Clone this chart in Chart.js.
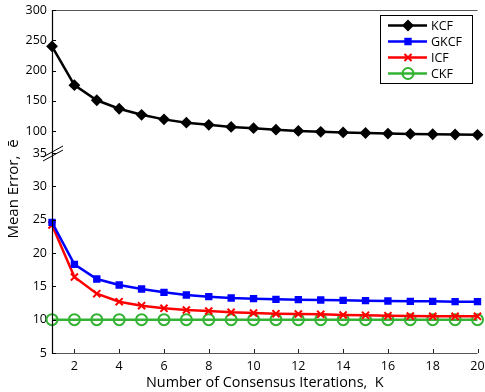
<!DOCTYPE html>
<html><head><meta charset="utf-8">
<script src="https://cdn.jsdelivr.net/npm/chart.js@4/dist/chart.umd.min.js"></script>
<style>html,body{margin:0;padding:0;background:#fff}#wrap{width:485px;height:392px}</style>
</head><body><div id="wrap"><canvas id="c" width="485" height="392"></canvas></div>
<script>
const iterations = [1,2,3,4,5,6,7,8,9,10,11,12,13,14,15,16,17,18,19,20];
const kcf  = [240,176,151,137,127,119.5,114,110.5,107,105,102.5,100.5,99,98,97,96,95.5,95,94.5,94];
const gkcf = [24.6,18.3,16.1,15.2,14.6,14.1,13.7,13.45,13.25,13.15,13.05,13.0,12.95,12.9,12.85,12.8,12.75,12.75,12.7,12.7];
const icf  = [24.2,16.4,13.9,12.7,12.1,11.7,11.45,11.3,11.1,11.0,10.9,10.85,10.8,10.7,10.65,10.6,10.55,10.5,10.5,10.5];
const ckf  = [10,10,10,10,10,10,10,10,10,10,10,10,10,10,10,10,10,10,10,10];
const xTicks = [2,4,6,8,10,12,14,16,18,20];
const yTopTicks = [100,150,200,250,300];
const yBotTicks = [5,10,15,20,25,30,35];
const seriesNames = ['KCF','GKCF','ICF','CKF'];
const xTitle = 'Number of Consensus Iterations,  K';
const yTitle = 'Mean Error,  ē';

const FONT = '"Open Sans", sans-serif';
const pts = arr => arr.map((v,i)=>({x:iterations[i], y:v}));

const inwardTicks = {
  id:'inwardTicks',
  afterDraw(chart){
    const ctx = chart.ctx, a = chart.chartArea;
    const sx = chart.scales.x, st = chart.scales.yTop, sb = chart.scales.yBot;
    ctx.save();
    ctx.strokeStyle = '#555'; ctx.lineWidth = 1;
    ctx.beginPath(); ctx.moveTo(a.left, a.top+0.5); ctx.lineTo(a.right, a.top+0.5); ctx.stroke();
    ctx.beginPath(); ctx.moveTo(a.left, a.bottom+0.5); ctx.lineTo(a.right, a.bottom+0.5); ctx.stroke();
    ctx.strokeStyle = '#222';
    xTicks.forEach(v=>{const p=Math.round(sx.getPixelForValue(v))+0.5; ctx.beginPath(); ctx.moveTo(p,a.bottom); ctx.lineTo(p,a.bottom-4); ctx.stroke();});
    ctx.strokeStyle = '#000'; ctx.lineWidth = 1.2;
    ctx.beginPath(); ctx.moveTo(a.left+0.5, a.top); ctx.lineTo(a.left+0.5, a.bottom+1); ctx.stroke();
    ctx.lineWidth = 1;
    yTopTicks.forEach(v=>{const p=Math.round(st.getPixelForValue(v))+0.5; ctx.beginPath(); ctx.moveTo(a.left,p); ctx.lineTo(a.left+4,p); ctx.stroke();});
    yBotTicks.forEach(v=>{const p=Math.round(sb.getPixelForValue(v))+0.5; ctx.beginPath(); ctx.moveTo(a.left,p); ctx.lineTo(a.left+4,p); ctx.stroke();});
    const by = sb.top;
    ctx.strokeStyle = '#000'; ctx.lineWidth = 1;
    [0,4].forEach(d=>{ctx.beginPath(); ctx.moveTo(a.left-9, by+4+d); ctx.lineTo(a.left+11, by-7+d); ctx.stroke();});
    ctx.fillStyle = '#000'; ctx.font = '15px '+FONT; ctx.textAlign='center'; ctx.textBaseline='middle';
    ctx.translate(14, 189); ctx.rotate(-Math.PI/2); ctx.fillText(yTitle, 0, 0);
    ctx.restore();
    ctx.save();
    const lx = 380, ly = 15, lw = 92, lh = 68;
    ctx.fillStyle = '#fff'; ctx.fillRect(lx, ly, lw, lh);
    ctx.strokeStyle = '#000'; ctx.lineWidth = 1; ctx.strokeRect(lx+0.5, ly+0.5, lw, lh);
    chart.data.datasets.forEach((ds,i)=>{
      const y = ly + 10.5 + i*16;
      ctx.strokeStyle = ds.borderColor; ctx.lineWidth = ds.borderWidth;
      ctx.beginPath(); ctx.moveTo(lx+8, y); ctx.lineTo(lx+47, y); ctx.stroke();
      ctx.fillStyle = ds.pointBackgroundColor;
      ctx.strokeStyle = ds.pointBorderColor; ctx.lineWidth = ds.pointBorderWidth;
      Chart.helpers.drawPoint(ctx, {pointStyle: ds.pointStyle, radius: ds.pointRadius, rotation: 0, borderWidth: ds.pointBorderWidth}, lx+28, y);
      ctx.fillStyle = '#000'; ctx.font = '12.5px '+FONT; ctx.textAlign='left'; ctx.textBaseline='middle';
      ctx.fillText(ds.label, lx+51, y+0.5);
    });
    ctx.restore();
  }
};

const mk = (label, data, color, style, radius, yAxisID, fill) => ({
  label, data: pts(data), yAxisID, borderColor: color, backgroundColor: color,
  borderWidth: 2.5, pointStyle: style, pointRadius: radius, pointHoverRadius: radius,
  pointBackgroundColor: fill, pointBorderColor: color, pointBorderWidth: 2,
  tension: 0, clip: false
});

new Chart(document.getElementById('c'), {
  type: 'line',
  data: { datasets: [
    mk(seriesNames[0], kcf, '#000000', 'rectRot', 4.5, 'yTop', '#000000'),
    mk(seriesNames[1], gkcf, '#0000ff', 'rect', 3.8, 'yBot', '#0000ff'),
    mk(seriesNames[2], icf, '#ff0000', 'crossRot', 5, 'yBot', '#ff0000'),
    mk(seriesNames[3], ckf, '#33b233', 'circle', 5.5, 'yBot', 'rgba(0,0,0,0)')
  ]},
  options: {
    responsive: false, animation: false, devicePixelRatio: 1,
    layout: { padding: { left: 0, right: 7, top: 10, bottom: 0 } },
    plugins: { legend: { display: false }, tooltip: { enabled: false } },
    scales: {
      x: {
        type: 'linear', min: 1, max: 20,
        afterBuildTicks: s => { s.ticks = xTicks.map(v=>({value:v})); },
        afterFit: s => { s.height = 39; s.paddingLeft = 0; s.paddingRight = 0; },
        grid: { display: false, drawTicks: false }, border: { display: false },
        ticks: { color: '#000', font: { family: FONT, size: 12.5 }, padding: 6, maxRotation: 0 },
        title: { display: true, text: xTitle, color: '#000', font: { family: FONT, size: 14.4 }, padding: { top: 0, bottom: 0 } }
      },
      yBot: {
        type: 'linear', position: 'left', stack: 'yy', stackWeight: 200, min: 5, max: 35,
        afterBuildTicks: s => { s.ticks = yBotTicks.map(v=>({value:v})); },
        afterFit: s => { s.width = 52; s.paddingTop = 0; s.paddingBottom = 0; },
        grid: { display: false, drawTicks: false }, border: { display: false },
        ticks: { color: '#000', font: { family: FONT, size: 12.5 }, padding: 5 }
      },
      yTop: {
        type: 'linear', position: 'left', stack: 'yy', stackWeight: 143, min: 64, max: 300,
        afterBuildTicks: s => { s.ticks = yTopTicks.map(v=>({value:v})); },
        afterFit: s => { s.width = 52; s.paddingTop = 0; s.paddingBottom = 0; },
        grid: { display: false, drawTicks: false }, border: { display: false },
        ticks: { color: '#000', font: { family: FONT, size: 12.5 }, padding: 5 }
      }
    }
  },
  plugins: [inwardTicks]
});
</script></body></html>
